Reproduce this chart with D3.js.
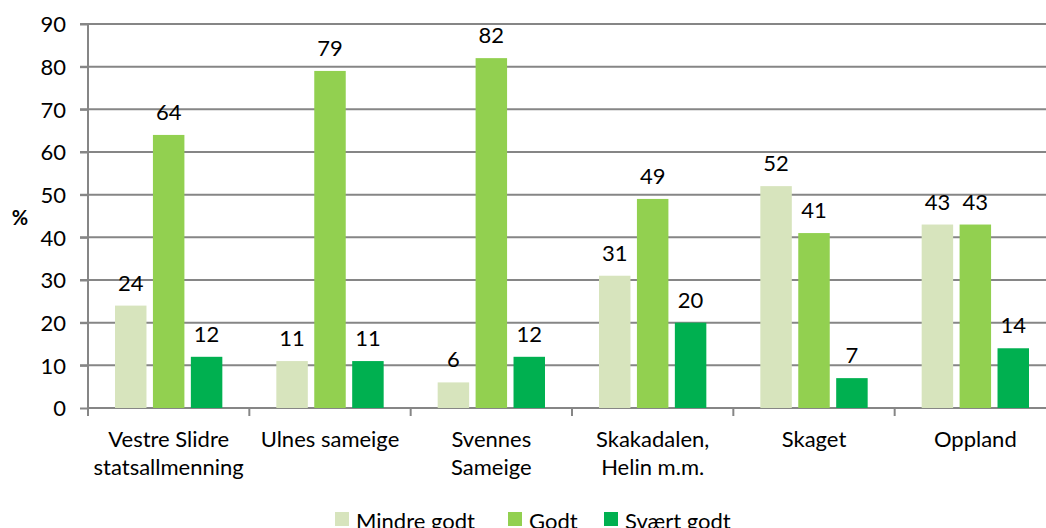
<!DOCTYPE html>
<html>
<head>
<meta charset="utf-8">
<script src="https://cdn.jsdelivr.net/npm/d3@7"></script>
<style>
  body { margin: 0; background: #fff; }
  svg { display: block; font-family: Lato, "Liberation Sans", sans-serif; }
</style>
</head>
<body>
<svg width="1046" height="528"></svg>
<script>
var categories = [["Vestre Slidre", "statsallmenning"], ["Ulnes sameige"], ["Svennes", "Sameige"], ["Skakadalen,", "Helin m.m."], ["Skaget"], ["Oppland"]];
var seriesNames = ["Mindre godt", "Godt", "Svært godt"];
var mindreGodt = [24, 11, 6, 31, 52, 43];
var godt = [64, 79, 82, 49, 41, 43];
var svaertGodt = [12, 11, 12, 20, 7, 14];
var yTicks = [0, 10, 20, 30, 40, 50, 60, 70, 80, 90];
var colors = ["#d7e4bd", "#92d050", "#00b050"];

var series = [mindreGodt, godt, svaertGodt];
var data = categories.map(function(c, i) {
    return { cat: i, lines: c, values: series.map(function(s, k) { return { key: k, value: s[i] }; }) };
});

var svg = d3.select("svg");
var plotLeft = 88, plotTop = 24, plotBottom = 408, plotRight = 1056;
var fs = "22px";

var x0 = d3.scaleBand().domain(d3.range(categories.length)).range([plotLeft, plotRight]).padding(0);
var x1 = d3.scaleBand().domain([0, 1, 2]).range([27, x0.bandwidth() - 27]).paddingInner(0.17);
var y = d3.scaleLinear().domain([0, 90]).range([plotBottom, plotTop]);

// gridlines
svg.append("g")
    .selectAll("line").data(yTicks.slice(1)).enter().append("line")
    .attr("x1", plotLeft - 8).attr("x2", 1046)
    .attr("y1", function(d) { return y(d); }).attr("y2", function(d) { return y(d); })
    .attr("stroke", "#868686").attr("stroke-width", 2);

// y axis
var yAxis = svg.append("g").attr("transform", "translate(" + plotLeft + ",0)")
    .call(d3.axisLeft(y).tickValues(yTicks).tickSize(8).tickPadding(14));
yAxis.select(".domain").attr("stroke", "#868686").attr("stroke-width", 2).attr("d", "M0," + plotTop + "V" + (plotBottom + 8));
yAxis.selectAll(".tick line").attr("stroke", "#868686").attr("stroke-width", 2);
yAxis.selectAll(".tick text").attr("fill", "#000").style("font-size", fs).style("font-family", "Lato, sans-serif").attr("dy", "0.35em");

// x axis
var xAxis = svg.append("g").attr("transform", "translate(0," + plotBottom + ")");
xAxis.append("line").attr("x1", plotLeft).attr("x2", 1046).attr("stroke", "#868686").attr("stroke-width", 2);
xAxis.selectAll(".xt").data(d3.range(categories.length + 1)).enter().append("line")
    .attr("x1", function(d) { return plotLeft + d * x0.bandwidth(); })
    .attr("x2", function(d) { return plotLeft + d * x0.bandwidth(); })
    .attr("y1", 0).attr("y2", 8)
    .attr("stroke", "#868686").attr("stroke-width", 2);

var labels = xAxis.selectAll(".xl").data(data).enter().append("text")
    .attr("text-anchor", "middle")
    .style("font-size", fs)
    .attr("fill", "#000");
labels.each(function(d) {
    var t = d3.select(this);
    d.lines.forEach(function(l, j) {
        t.append("tspan").attr("x", x0(d.cat) + x0.bandwidth() / 2).attr("y", 39 + j * 28).text(l);
    });
});

// bars
var groups = svg.selectAll(".grp").data(data).enter().append("g")
    .attr("transform", function(d) { return "translate(" + x0(d.cat) + ",0)"; });

groups.selectAll("rect").data(function(d) { return d.values; }).enter().append("rect")
    .attr("x", function(d) { return x1(d.key); })
    .attr("width", x1.bandwidth())
    .attr("y", function(d) { return y(d.value); })
    .attr("height", function(d) { return plotBottom - y(d.value); })
    .attr("fill", function(d) { return colors[d.key]; });

groups.selectAll("text").data(function(d) { return d.values; }).enter().append("text")
    .attr("x", function(d) { return x1(d.key) + x1.bandwidth() / 2; })
    .attr("y", function(d) { return y(d.value) - 15; })
    .attr("text-anchor", "middle")
    .style("font-size", fs)
    .text(function(d) { return d.value; });

// % label
svg.append("text").attr("x", 20).attr("y", 225).attr("text-anchor", "middle")
    .style("font-size", "20px").style("font-weight", "bold").text("%");

// legend
var legX = [335, 508, 604];
var leg = svg.selectAll(".leg").data(seriesNames).enter().append("g")
    .attr("transform", function(d, i) { return "translate(" + legX[i] + ",512)"; });
leg.append("rect").attr("width", 14).attr("height", 14).attr("fill", function(d, i) { return colors[i]; });
leg.append("text").attr("x", 21).attr("y", 17).style("font-size", fs).text(function(d) { return d; });
</script>
</body>
</html>
